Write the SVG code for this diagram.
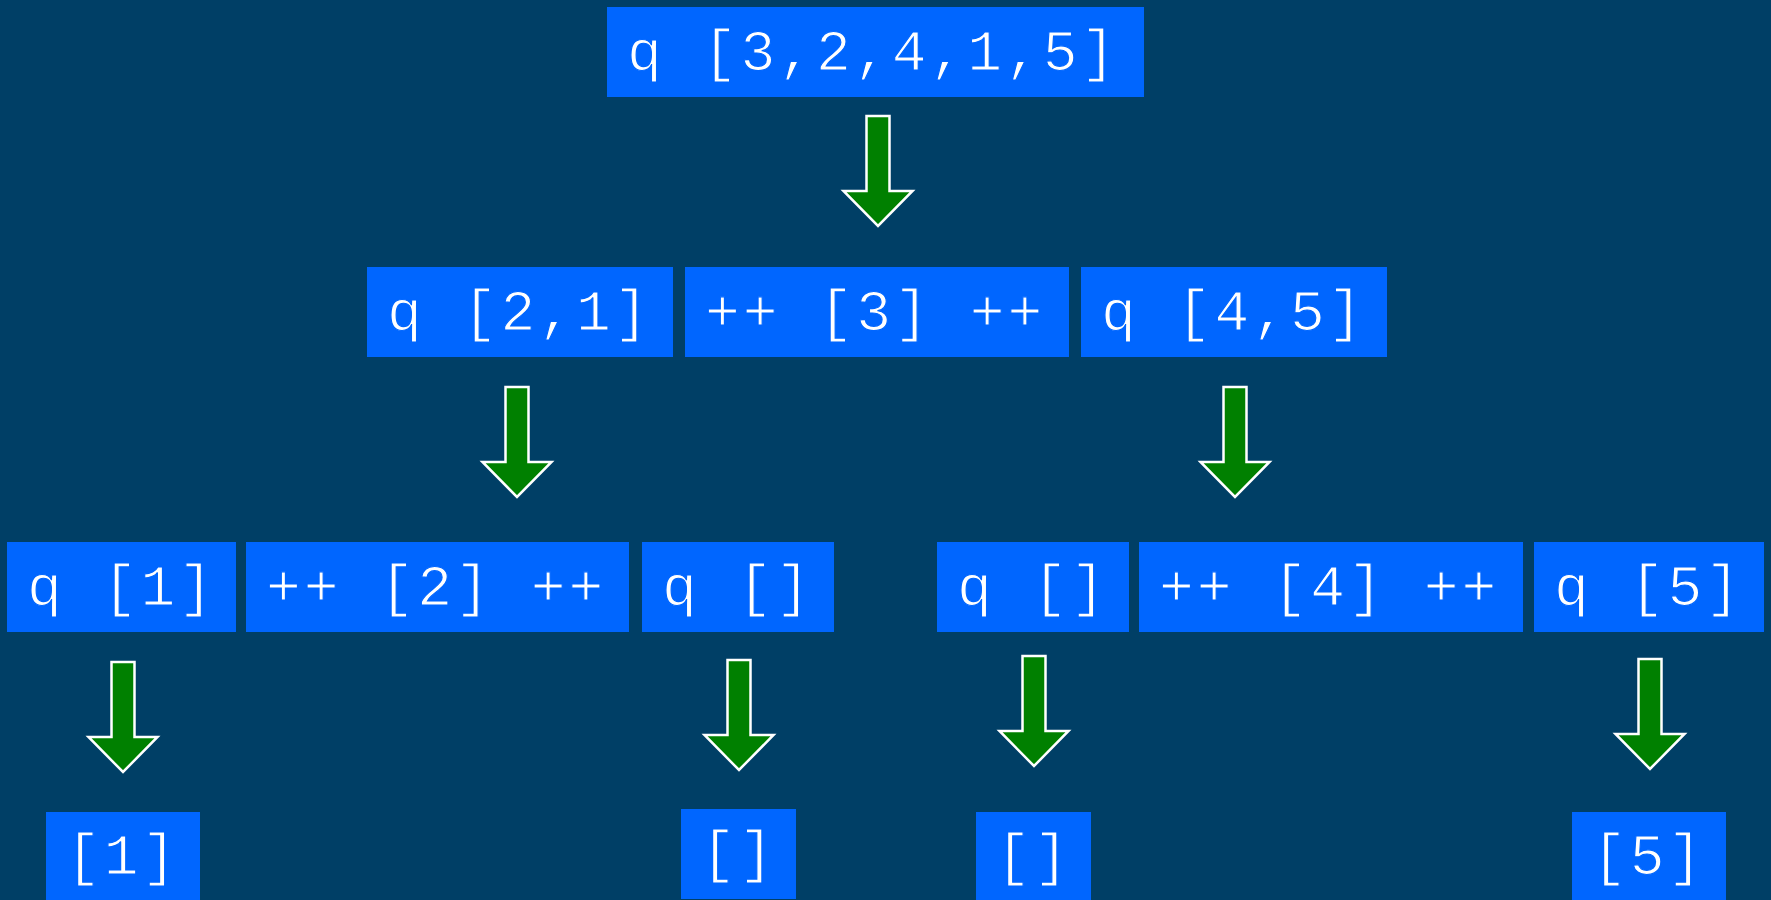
<svg xmlns="http://www.w3.org/2000/svg" xmlns:xlink="http://www.w3.org/1999/xlink" width="1771" height="900" viewBox="0 0 1771 900">
<style>
.box{fill:#0066FF}
.t{font-family:"Liberation Mono","Courier New",monospace;font-size:58px;letter-spacing:3px;fill:#FFFFFF;stroke:#0066FF;stroke-width:1.2px}
.arrow{fill:#008000;stroke:#FFFFFF;stroke-width:2.5;stroke-linejoin:miter}
</style>
<defs>
<path id="arr" class="arrow" d="M-11.5,0 H11.5 V75 H34.5 L0,110 L-34.5,75 H-11.5 Z"/>
</defs>
<rect x="0" y="0" width="1771" height="900" fill="#003F66"/>
<g id="n_top"><rect class="box" x="607" y="7" width="537" height="90"/><text class="t" x="627" y="70">q [3,2,4,1,5]</text></g>
<g id="n_q21"><rect class="box" x="367" y="267" width="306" height="90"/><text class="t" x="387" y="330">q [2,1]</text></g>
<g id="n_pp3"><rect class="box" x="685" y="267" width="384" height="90"/><text class="t" x="705" y="330">++ [3] ++</text></g>
<g id="n_q45"><rect class="box" x="1081" y="267" width="306" height="90"/><text class="t" x="1101" y="330">q [4,5]</text></g>
<g id="n_q1"><rect class="box" x="7" y="542" width="229" height="90"/><text class="t" x="27" y="605">q [1]</text></g>
<g id="n_pp2"><rect class="box" x="246" y="542" width="383" height="90"/><text class="t" x="266" y="605">++ [2] ++</text></g>
<g id="n_qe1"><rect class="box" x="642" y="542" width="192" height="90"/><text class="t" x="662" y="605">q []</text></g>
<g id="n_qe2"><rect class="box" x="937" y="542" width="192" height="90"/><text class="t" x="957" y="605">q []</text></g>
<g id="n_pp4"><rect class="box" x="1139" y="542" width="384" height="90"/><text class="t" x="1159" y="605">++ [4] ++</text></g>
<g id="n_q5"><rect class="box" x="1534" y="542" width="230" height="90"/><text class="t" x="1554" y="605">q [5]</text></g>
<g id="n_r1"><rect class="box" x="46" y="812" width="154" height="90"/><text class="t" x="66" y="874">[1]</text></g>
<g id="n_re1"><rect class="box" x="681" y="809" width="115" height="90"/><text class="t" x="701" y="871">[]</text></g>
<g id="n_re2"><rect class="box" x="976" y="812" width="115" height="90"/><text class="t" x="996" y="874">[]</text></g>
<g id="n_r5"><rect class="box" x="1572" y="812" width="154" height="90"/><text class="t" x="1592" y="874">[5]</text></g>
<g id="connectors">
<use xlink:href="#arr" x="878" y="116"/>
<use xlink:href="#arr" x="517" y="387"/>
<use xlink:href="#arr" x="1235" y="387"/>
<use xlink:href="#arr" x="123" y="662"/>
<use xlink:href="#arr" x="739" y="660"/>
<use xlink:href="#arr" x="1034" y="656"/>
<use xlink:href="#arr" x="1650" y="659"/>
</g>
</svg>
